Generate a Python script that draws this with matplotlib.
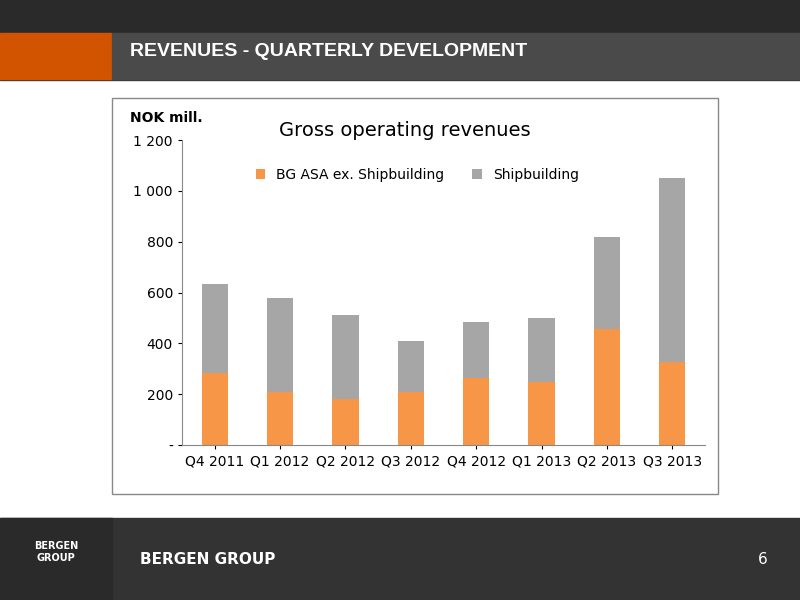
import matplotlib.pyplot as plt
from matplotlib.patches import Rectangle
import numpy as np

quarters = ["Q4 2011", "Q1 2012", "Q2 2012", "Q3 2012", "Q4 2012", "Q1 2013", "Q2 2013", "Q3 2013"]
bg_ex_ship = [283, 208, 181, 208, 264, 248, 456, 327]
totals = [633, 578, 511, 409, 484, 500, 818, 1050]
shipbuilding = [t - b for t, b in zip(totals, bg_ex_ship)]

fig = plt.figure(figsize=(8, 6), dpi=100)
fig.patch.set_facecolor("white")

# slide header / footer
bg = fig.add_axes([0, 0, 1, 1], zorder=0)
bg.set_xlim(0, 800)
bg.set_ylim(600, 0)
bg.axis("off")
bg.add_patch(Rectangle((0, 0), 800, 80, color="#3a3a3a"))
bg.add_patch(Rectangle((0, 0), 800, 32, color="#2a2a2a"))
bg.add_patch(Rectangle((0, 33), 112, 46, color="#d35400"))
bg.add_patch(Rectangle((112, 33), 688, 46, color="#4a4a4a"))
bg.text(130, 52, "R E V E N U E S  -  Q U A R T E R L Y   D E V E L O P M E N T".replace("  ", "\u2009 ")
        if False else "REVENUES - QUARTERLY DEVELOPMENT", color="white", fontsize=14,
        fontweight="bold", va="center", ha="left", fontfamily="Liberation Sans")
bg.add_patch(Rectangle((0, 518), 800, 82, color="#333333"))
bg.add_patch(Rectangle((0, 518), 112, 82, color="#2a2a2a"))
bg.text(56, 552, "BERGEN\nGROUP", color="white", fontsize=7, ha="center", va="center", fontweight="bold")
bg.text(140, 560, "BERGEN GROUP", color="white", fontsize=11, fontweight="bold", va="center")
bg.text(768, 560, "6", color="white", fontsize=11, va="center", ha="right")
bg.add_patch(Rectangle((112, 98), 606, 396, fill=False, edgecolor="#888888", linewidth=1))

ax = fig.add_axes([182 / 800, 1 - 445 / 600, (705 - 182) / 800, (445 - 140) / 600], zorder=1)
x = np.arange(len(quarters))
ax.bar(x, bg_ex_ship, width=0.4, color="#f79646", label="BG ASA ex. Shipbuilding")
ax.bar(x, shipbuilding, width=0.4, bottom=bg_ex_ship, color="#a6a6a6", label="Shipbuilding")
ax.set_xlim(-0.5, len(quarters) - 0.5)
ax.set_ylim(0, 1200)
ax.set_yticks(range(0, 1201, 200))
ax.set_yticklabels(["-", "200", "400", "600", "800", "1 000", "1 200"])
ax.set_xticks(x)
ax.set_xticklabels(quarters)
ax.tick_params(labelsize=10, length=3)
for s in ["top", "right"]:
    ax.spines[s].set_visible(False)
ax.spines["left"].set_color("#888888")
ax.spines["bottom"].set_color("#888888")
ax.legend(loc="upper center", ncol=2, frameon=False, fontsize=10, bbox_to_anchor=(0.45, 0.95),
          handlelength=0.7, handleheight=0.7)
fig.text(405 / 800, 1 - 130 / 600, "Gross operating revenues", fontsize=14, ha="center", va="center")
fig.text(130 / 800, 1 - 118 / 600, "NOK mill.", fontsize=10, fontweight="bold", ha="left", va="center")

fig.savefig("out.png", dpi=100)
